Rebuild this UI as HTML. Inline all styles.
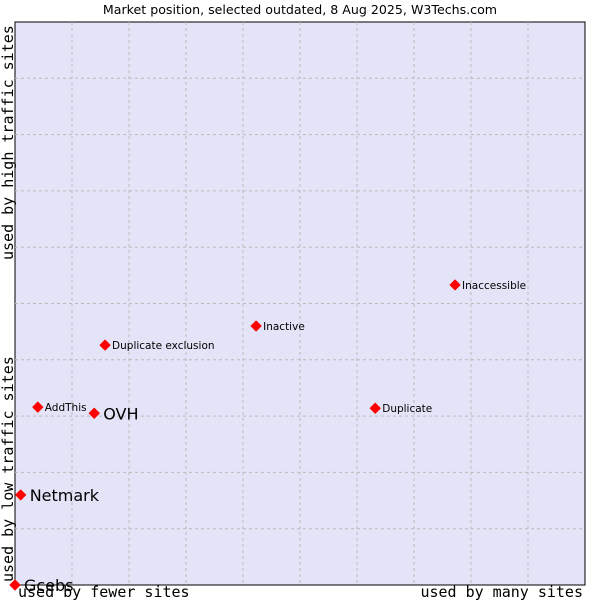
<!DOCTYPE html>
<html><head><meta charset="utf-8"><style>
body{margin:0;background:#fff;width:600px;height:600px;overflow:hidden}
svg text{font-family:"DejaVu Sans","Liberation Sans",sans-serif}
</style></head><body>
<svg id="chart" width="600" height="600" xmlns="http://www.w3.org/2000/svg">
<text x="300" y="14" text-anchor="middle" font-size="12.6" fill="#000">Market position, selected outdated, 8 Aug 2025, W3Techs.com</text>
<rect x="15" y="22" width="570" height="563" fill="#e3e4f8" stroke="#000" stroke-width="1"/>
<g id="grid"></g>
<text x="18" y="597" font-size="15" style="font-family:'DejaVu Sans Mono','Liberation Mono',monospace">used by fewer sites</text>
<text x="583" y="597" text-anchor="end" font-size="15" style="font-family:'DejaVu Sans Mono','Liberation Mono',monospace">used by many sites</text>
<text transform="translate(13,582) rotate(-90)" font-size="15" style="font-family:'DejaVu Sans Mono','Liberation Mono',monospace">used by low traffic sites</text>
<text transform="translate(13,260) rotate(-90)" font-size="15" style="font-family:'DejaVu Sans Mono','Liberation Mono',monospace">used by high traffic sites</text>
<g id="points"></g>
</svg>
<script>
const names=["Gcebs","Netmark","OVH","AddThis","Duplicate exclusion","Inactive","Duplicate","Inaccessible"];
const xVals=[0,0.1,1.39,0.4,1.58,4.23,6.32,7.72];
const yVals=[0,1.6,3.05,3.16,4.26,4.6,3.14,5.33];
const big=[true,true,true,false,false,false,false,false];
const L=15,T=22,W=570,H=563;
const sx=v=>L+v/10*W, sy=v=>T+H-v/10*H;
const NS="http://www.w3.org/2000/svg";
const g=document.getElementById('grid');
for(let i=1;i<10;i++){
 const a=document.createElementNS(NS,'line');
 
 
 a.setAttribute('x1',sx(i));a.setAttribute('x2',sx(i));a.setAttribute('y1',T);a.setAttribute('y2',T+H);
 a.setAttribute('stroke','#bbb');a.setAttribute('stroke-dasharray','3,3');g.appendChild(a);
 const b=document.createElementNS(NS,'line');
 
 
 b.setAttribute('y1',sy(i));b.setAttribute('y2',sy(i));b.setAttribute('x1',L);b.setAttribute('x2',L+W);
 b.setAttribute('stroke','#bbb');b.setAttribute('stroke-dasharray','3,3');g.appendChild(b);
}
const p=document.getElementById('points');
names.forEach((n,i)=>{
 const x=sx(xVals[i]),y=sy(yVals[i]);
 const d=document.createElementNS(NS,'path');
 
 
 d.setAttribute('d',`M${x} ${y-5}L${x+5} ${y}L${x} ${y+5}L${x-5} ${y}Z`);
 d.setAttribute('fill','#f00');d.setAttribute('stroke','#f00');d.setAttribute('stroke-linejoin','round');p.appendChild(d);
 const t=document.createElementNS(NS,'text');
 
 
 t.setAttribute('x',x+(big[i]?9:7));t.setAttribute('y',y+(big[i]?6:4));
 t.setAttribute('font-size',big[i]?16:10.5);t.textContent=n;p.appendChild(t);
});
</script>
</body></html>
